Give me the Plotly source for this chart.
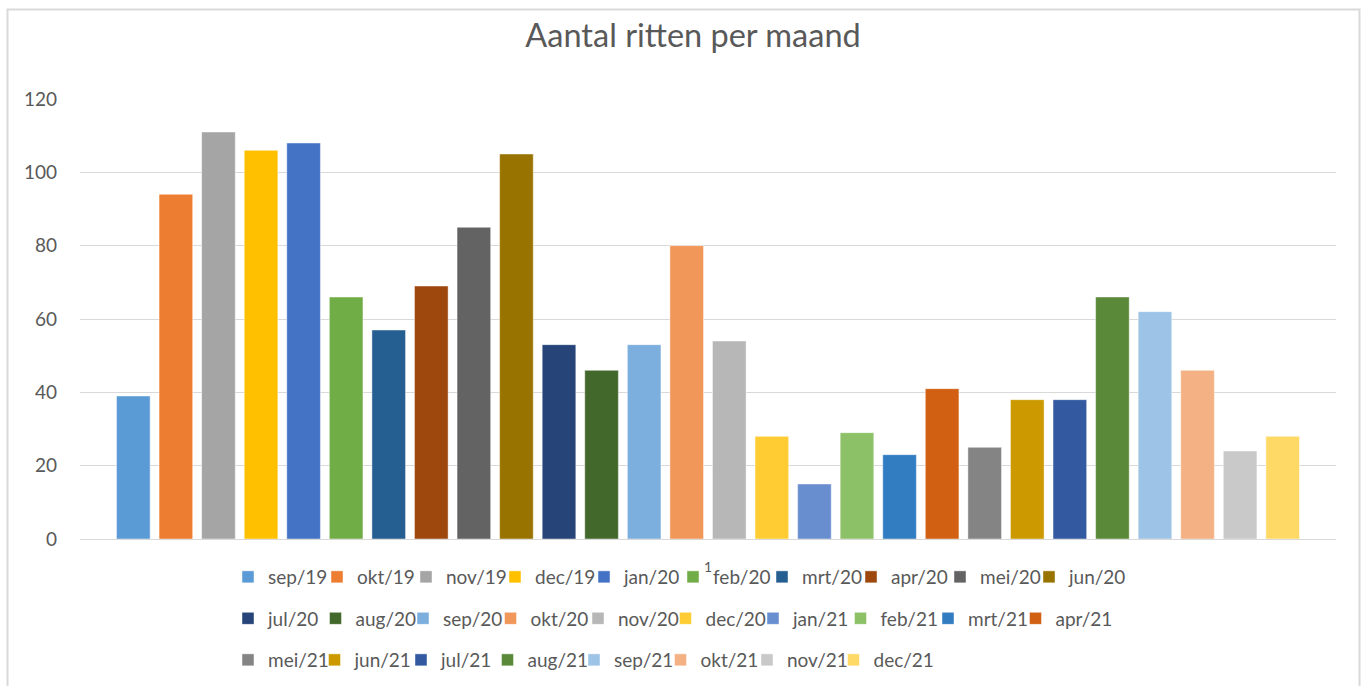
import plotly.graph_objects as go

months = ["sep/19", "okt/19", "nov/19", "dec/19", "jan/20", "feb/20", "mrt/20", "apr/20", "mei/20", "jun/20",
          "jul/20", "aug/20", "sep/20", "okt/20", "nov/20", "dec/20", "jan/21", "feb/21", "mrt/21", "apr/21",
          "mei/21", "jun/21", "jul/21", "aug/21", "sep/21", "okt/21", "nov/21", "dec/21"]
ritten = [39, 94, 111, 106, 108, 66, 57, 69, 85, 105,
          53, 46, 53, 80, 54, 28, 15, 29, 23, 41,
          25, 38, 38, 66, 62, 46, 24, 28]
colors = ["#5B9BD5", "#ED7D31", "#A5A5A5", "#FFC000", "#4472C4", "#70AD47", "#255E91", "#9E480E", "#636363", "#997300",
          "#264478", "#43682B", "#7CAFDD", "#F1975A", "#B7B7B7", "#FFCD33", "#698ED0", "#8CC168", "#327DC2", "#D26012",
          "#848484", "#CC9A00", "#335AA1", "#5A8A39", "#9DC3E6", "#F4B183", "#C9C9C9", "#FFD966"]
category = ["1"]
y_ticks = [0, 20, 40, 60, 80, 100, 120]

W, H = 1367, 686
L, R, T, B = 80, 31, 99, 147
pw, ph = W - L - R, H - T - B

def px_x(p):
    return (p - L) / pw

def px_y(p):
    return (H - B - p) / ph

fig = go.Figure()
legend_names = ["legend", "legend2", "legend3"]
for i, (m, v, c) in enumerate(zip(months, ritten, colors)):
    fig.add_trace(go.Bar(
        x=category, y=[v], name=m,
        marker=dict(color=c, line=dict(color="rgba(255,255,255,0.45)", width=1)),
        legend=legend_names[min(i // 10, 2)],
    ))

# empty spacer entries so the last label of each legend row is not clipped
for ln in legend_names:
    fig.add_trace(go.Scatter(x=[None], y=[None], mode="markers", name=" ",
                             marker=dict(color="rgba(0,0,0,0)", size=1, line=dict(width=0)),
                             legend=ln, hoverinfo="skip"))

font_family = "Lato, Noto Sans, sans-serif"
txt = "#595959"
leg_common = dict(orientation="h", xanchor="left", yanchor="middle", x=px_x(228),
                  font=dict(family=font_family, size=19, color=txt), bgcolor="rgba(0,0,0,0)",
                  itemwidth=30, tracegroupgap=0)

fig.update_layout(
    width=W, height=H,
    margin=dict(l=L, r=R, t=T, b=B, autoexpand=False),
    paper_bgcolor="white", plot_bgcolor="white",
    barmode="group", bargap=0.051, bargroupgap=0.21,
    title=dict(text="Aantal ritten per maand", x=693 / W, xanchor="center", y=1 - 36 / H, yanchor="middle",
               font=dict(family=font_family, size=32.5, color=txt)),
    font=dict(family=font_family, color=txt),
    legend=dict(leg_common, y=px_y(577), entrywidth=44),
    legend2=dict(leg_common, y=px_y(618.5), entrywidth=42.5),
    legend3=dict(leg_common, y=px_y(660), entrywidth=41.5),
    xaxis=dict(showgrid=False, showline=False, zeroline=False, ticks="",
               tickfont=dict(family=font_family, size=14, color=txt), ticklabelstandoff=18),
    yaxis=dict(range=[0, 120], tickvals=y_ticks, showgrid=True, gridcolor="#D9D9D9", gridwidth=1,
               zeroline=True, zerolinecolor="#D9D9D9", zerolinewidth=1, showline=False, ticks="",
               tickfont=dict(family=font_family, size=19, color=txt), ticklabelstandoff=22),
    shapes=[dict(type="rect", xref="paper", yref="paper", x0=px_x(7.5), x1=px_x(1359.5),
                 y0=px_y(720), y1=px_y(9.5), line=dict(color="#D9D9D9", width=2), layer="below")],
)

fig.write_html("out.html", config={"displayModeBar": False},
               post_script="document.body.style.margin='0px';")
